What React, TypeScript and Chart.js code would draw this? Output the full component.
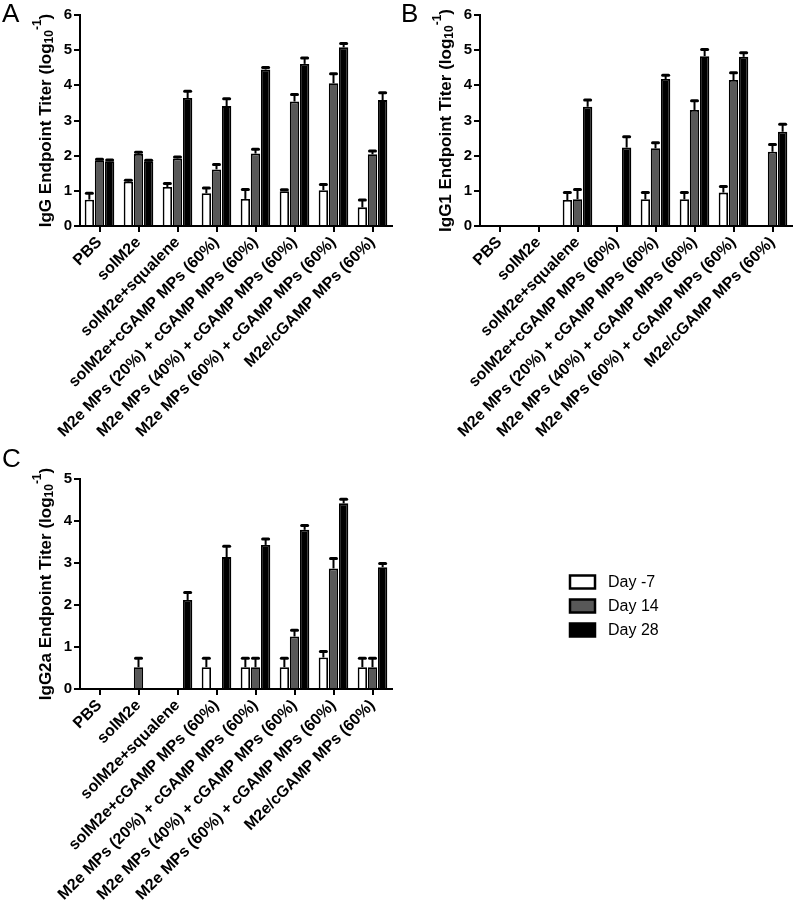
import React, { useEffect, useRef } from 'react';
import { Chart, registerables } from 'chart.js';

Chart.register(...registerables);

const FONT = '"Liberation Sans", Arial, Helvetica, sans-serif';

const categories = [
  'PBS',
  'solM2e',
  'solM2e+squalene',
  'solM2e+cGAMP MPs (60%)',
  'M2e MPs (20%) + cGAMP MPs (60%)',
  'M2e MPs (40%) + cGAMP MPs (60%)',
  'M2e MPs (60%) + cGAMP MPs (60%)',
  'M2e/cGAMP MPs (60%)',
];

const seriesLabels = ['Day -7', 'Day 14', 'Day 28'];
const seriesColors = ['#ffffff', '#585858', '#000000'];

// Panel A: IgG
const iggDay7 = [0.75, 1.26, 1.11, 0.93, 0.77, 0.99, 1.02, 0.53];
const iggDay7Err = [0.93, 1.3, 1.21, 1.08, 1.04, 1.03, 1.18, 0.74];
const iggDay14 = [1.87, 2.05, 1.92, 1.61, 2.06, 3.54, 4.06, 2.04];
const iggDay14Err = [1.9, 2.1, 1.96, 1.75, 2.18, 3.74, 4.33, 2.13];
const iggDay28 = [1.84, 1.84, 3.64, 3.41, 4.45, 4.61, 5.08, 3.58];
const iggDay28Err = [1.88, 1.87, 3.83, 3.62, 4.51, 4.78, 5.19, 3.79];

// Panel B: IgG1
const igg1Day7 = [null, null, 0.74, null, 0.76, 0.76, 0.95, null];
const igg1Day7Err = [null, null, 0.95, null, 0.95, 0.95, 1.12, null];
const igg1Day14 = [null, null, 0.76, null, 2.21, 3.3, 4.15, 2.11];
const igg1Day14Err = [null, null, 1.04, null, 2.37, 3.56, 4.36, 2.32];
const igg1Day28 = [null, null, 3.39, 2.23, 4.18, 4.83, 4.81, 2.68];
const igg1Day28Err = [null, null, 3.58, 2.54, 4.29, 5.02, 4.93, 2.89];

// Panel C: IgG2a
const igg2aDay7 = [null, null, null, 0.52, 0.52, 0.52, 0.75, 0.52];
const igg2aDay7Err = [null, null, null, 0.73, 0.73, 0.73, 0.89, 0.73];
const igg2aDay14 = [null, 0.52, null, null, 0.52, 1.25, 2.87, 0.52];
const igg2aDay14Err = [null, 0.73, null, null, 0.73, 1.4, 3.11, 0.73];
const igg2aDay28 = [null, null, 2.12, 3.14, 3.43, 3.79, 4.42, 2.9];
const igg2aDay28Err = [null, null, 2.3, 3.4, 3.57, 3.89, 4.52, 2.99];

const errorBarPlugin = {
  id: 'errBars',
  afterDatasetsDraw(chart: any) {
    const ctx = chart.ctx;
    const yScale = chart.scales.y;
    chart.data.datasets.forEach((ds: any, di: number) => {
      const meta = chart.getDatasetMeta(di);
      const errs = ds.errTop || [];
      meta.data.forEach((bar: any, i: number) => {
        const v = ds.data[i];
        const e = errs[i];
        if (v == null || e == null) return;
        const x = bar.x;
        const y0 = bar.y;
        const y1 = yScale.getPixelForValue(e);
        ctx.save();
        ctx.strokeStyle = '#000';
        ctx.lineWidth = 2;
        ctx.beginPath();
        ctx.moveTo(x, y0);
        ctx.lineTo(x, y1);
        ctx.stroke();
        ctx.lineWidth = 3;
        ctx.lineCap = 'round';
        ctx.beginPath();
        ctx.moveTo(x - 3, y1);
        ctx.lineTo(x + 3, y1);
        ctx.stroke();
        ctx.restore();
      });
    });
  },
};

const decorPlugin = {
  id: 'decor',
  afterDraw(chart: any, _args: any, opts: any) {
    const ctx = chart.ctx;
    const area = chart.chartArea;
    ctx.save();
    if (opts.letter) {
      ctx.fillStyle = '#000';
      ctx.font = `26px ${FONT}`;
      ctx.textBaseline = 'alphabetic';
      ctx.textAlign = 'left';
      ctx.fillText(opts.letter, opts.letterX, opts.letterY);
    }
    if (opts.title) {
      const main = `bold 17px ${FONT}`;
      const small = `bold 12px ${FONT}`;
      const parts = [
        { t: opts.title, f: main, dy: 0 },
        { t: 'log', f: main, dy: 0 },
        { t: '10', f: small, dy: 4 },
        { t: '-1', f: small, dy: -8 },
        { t: ')', f: main, dy: 0 },
      ];
      let total = 0;
      parts.forEach((p) => {
        ctx.font = p.f;
        total += ctx.measureText(p.t).width;
      });
      const cy = (area.top + area.bottom) / 2;
      ctx.translate(opts.titleX, cy);
      ctx.rotate(-Math.PI / 2);
      ctx.fillStyle = '#000';
      ctx.textAlign = 'left';
      ctx.textBaseline = 'middle';
      let x = -total / 2;
      parts.forEach((p) => {
        ctx.font = p.f;
        ctx.fillText(p.t, x, p.dy);
        x += ctx.measureText(p.t).width;
      });
      ctx.setTransform(1, 0, 0, 1, 0, 0);
    }
    ctx.restore();
    if (opts.legend) {
      const L = opts.legend;
      ctx.save();
      chart.data.datasets.forEach((ds: any, i: number) => {
        const cy = L.y + i * L.spacing;
        ctx.fillStyle = ds.backgroundColor;
        ctx.strokeStyle = '#000';
        ctx.lineWidth = 2.5;
        ctx.fillRect(L.x, cy - L.boxH / 2, L.boxW, L.boxH);
        ctx.strokeRect(L.x, cy - L.boxH / 2, L.boxW, L.boxH);
        ctx.fillStyle = '#000';
        ctx.font = `16px ${FONT}`;
        ctx.textAlign = 'left';
        ctx.textBaseline = 'middle';
        ctx.fillText(ds.label, L.x + L.boxW + 13, cy + 1);
      });
      ctx.restore();
    }
  },
};

type PanelProps = {
  left: number;
  top: number;
  width: number;
  height: number;
  series: (number | null)[][];
  errs: (number | null)[][];
  yMax: number;
  padTop: number;
  padRight: number;
  xHeight: number;
  decor: any;
};

function Panel(props: PanelProps) {
  const ref = useRef<HTMLCanvasElement | null>(null);
  useEffect(() => {
    if (!ref.current) return;
    const chart = new Chart(ref.current, {
      type: 'bar',
      data: {
        labels: categories,
        datasets: props.series.map((d, i) => ({
          label: seriesLabels[i],
          data: d,
          errTop: props.errs[i],
          backgroundColor: seriesColors[i],
          borderColor: '#000',
          borderWidth: 1.8,
          categoryPercentage: 0.78,
          barPercentage: 0.92,
        })) as any,
      },
      options: {
        responsive: false,
        animation: false,
        devicePixelRatio: 1,
        layout: { padding: { top: props.padTop, right: props.padRight, left: 0, bottom: 0 } },
        plugins: {
          legend: { display: false },
          tooltip: { enabled: false },
          decor: props.decor,
        } as any,
        scales: {
          x: {
            grid: {
              display: true,
              drawOnChartArea: false,
              drawTicks: true,
              tickLength: 6,
              offset: false,
              color: '#000',
              lineWidth: 2,
            },
            border: { display: true, color: '#000', width: 2 },
            ticks: {
              autoSkip: false,
              maxRotation: 45,
              minRotation: 45,
              color: '#000',
              padding: 1,
              font: { family: FONT, size: 16, weight: 'bold' },
            },
            afterFit: (s: any) => {
              s.height = props.xHeight;
            },
          },
          y: {
            min: 0,
            max: props.yMax,
            grid: {
              display: true,
              drawOnChartArea: false,
              drawTicks: true,
              tickLength: 6,
              color: '#000',
              lineWidth: 2,
            },
            border: { display: true, color: '#000', width: 2 },
            ticks: {
              stepSize: 1,
              color: '#000',
              padding: 2,
              font: { family: FONT, size: 15, weight: 'bold' },
            },
            afterFit: (s: any) => {
              s.width = 80;
            },
          },
        },
      } as any,
      plugins: [errorBarPlugin, decorPlugin],
    });
    return () => chart.destroy();
  }, []);
  return (
    <canvas
      ref={ref}
      width={props.width}
      height={props.height}
      style={{
        position: 'absolute',
        left: props.left,
        top: props.top,
        width: props.width,
        height: props.height,
      }}
    />
  );
}

export default function App() {
  return (
    <div
      style={{
        position: 'absolute',
        left: 0,
        top: 0,
        width: 800,
        height: 905,
        background: '#fff',
        overflow: 'hidden',
      }}
    >
      <Panel
        left={0}
        top={0}
        width={400}
        height={440}
        series={[iggDay7, iggDay14, iggDay28]}
        errs={[iggDay7Err, iggDay14Err, iggDay28Err]}
        yMax={6}
        padTop={15}
        padRight={8}
        xHeight={214}
        decor={{ letter: 'A', letterX: 2, letterY: 22, title: 'IgG Endpoint Titer (', titleX: 46 }}
      />
      <Panel
        left={400}
        top={0}
        width={400}
        height={440}
        series={[igg1Day7, igg1Day14, igg1Day28]}
        errs={[igg1Day7Err, igg1Day14Err, igg1Day28Err]}
        yMax={6}
        padTop={15}
        padRight={8}
        xHeight={214}
        decor={{ letter: 'B', letterX: 1, letterY: 22, title: 'IgG1 Endpoint Titer (', titleX: 46 }}
      />
      <Panel
        left={0}
        top={440}
        width={800}
        height={465}
        series={[igg2aDay7, igg2aDay14, igg2aDay28]}
        errs={[igg2aDay7Err, igg2aDay14Err, igg2aDay28Err]}
        yMax={5}
        padTop={39}
        padRight={408}
        xHeight={216}
        decor={{
          letter: 'C',
          letterX: 2,
          letterY: 27,
          title: 'IgG2a Endpoint Titer (',
          titleX: 46,
          legend: { x: 570, y: 142, spacing: 24, boxW: 25, boxH: 13 },
        }}
      />
    </div>
  );
}
